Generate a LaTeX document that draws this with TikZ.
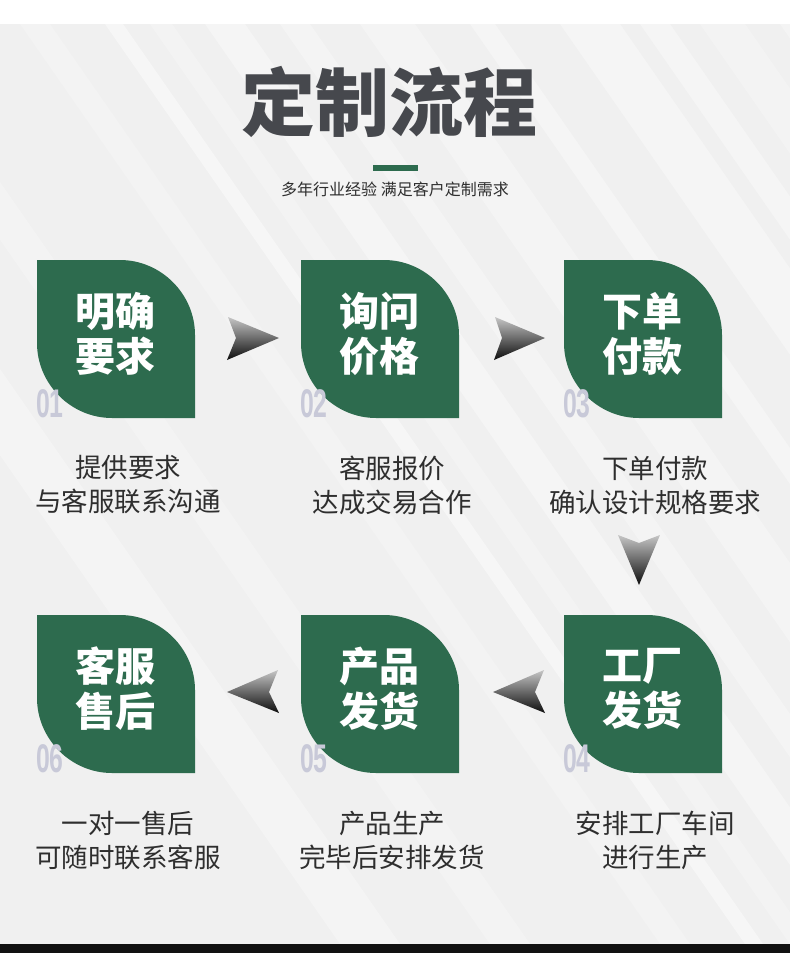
\documentclass[tikz,border=0pt]{standalone}
\usepackage{fontspec}
\usepackage{graphicx}
\newfontfamily\cjk{Noto Sans CJK SC}
\newfontfamily\numfont{Liberation Sans}
\definecolor{tilegreen}{HTML}{2D6B4E}
\definecolor{bgcol}{HTML}{F0F0F0}
\definecolor{titlecol}{HTML}{46484D}
\definecolor{desccol}{HTML}{2E2E2E}
\definecolor{numcol}{HTML}{C8C9D8}
\definecolor{barcol}{HTML}{111111}
\tikzset{
  titletext/.style={font=\cjk\bfseries\fontsize{74}{80}\selectfont, text=titlecol, inner sep=0},
  subtext/.style={font=\cjk\fontsize{16}{18}\selectfont, text=desccol, inner sep=0},
  tiletext/.style={font=\cjk\bfseries\fontsize{40}{45}\selectfont, text=white, align=center, inner sep=0},
  desctext/.style={font=\cjk\fontsize{26.5}{34}\selectfont, text=desccol, align=center, inner sep=0},
  numtext/.style={font=\numfont\bfseries\fontsize{40}{40}\selectfont, text=numcol, inner sep=0, anchor=south west},
  dart/.style={top color=gray!45, bottom color=black!95}
}
% leaf tile: #1 name, #2 left x, #3 top y, #4 text, #5 number
\newcommand\leaftile[5]{%
  \fill[tilegreen] (#2,#3) -- (#2+83,#3)
    .. controls (#2+124,#3) and (#2+158,#3+34) .. (#2+158,#3+75)
    -- (#2+158,#3+158) -- (#2+75,#3+158)
    .. controls (#2+34,#3+158) and (#2,#3+124) .. (#2,#3+83) -- cycle;
  \node[tiletext] (#1) at (#2+78,#3+74) {#4};
  \node[numtext] (#1num) at (#2-1,#3+158) {\scalebox{0.62}[1]{#5}};
}
\begin{document}
\begin{tikzpicture}[x=1pt,y=-1pt]
\useasboundingbox (0,0) rectangle (790,953);
\fill[white] (0,0) rectangle (790,24);
\fill[bgcol] (0,24) rectangle (790,944);
\begin{scope}
  \clip (0,24) rectangle (790,944);
  \foreach \a/\w/\o in {105/18/0.45, 150/22/0.25, 205/40/0.35, 280/30/0.3, 360/55/0.3, 470/25/0.35, 560/60/0.35, 640/30/0.35, 700/45/0.25, 20/30/0.2, -150/40/0.25, -300/60/0.3, 780/50/0.3}
    \fill[white, opacity=\o] (\a,24) -- (\a+\w,24) -- (\a+\w+640,944) -- (\a+640,944) -- cycle;
\end{scope}
\fill[barcol] (0,944) rectangle (790,953);

% title
\node[titletext] (title) at (389,102) {定制流程};
\fill[tilegreen] (373,165) rectangle (418,171);
\node[subtext] (subtitle) at (395,189) {多年行业经验 满足客户定制需求};

% tiles
\leaftile{t1}{37}{260}{明确\\要求}{01}
\leaftile{t2}{301}{260}{询问\\价格}{02}
\leaftile{t3}{564}{260}{下单\\付款}{03}
\leaftile{t6}{37}{615}{客服\\售后}{06}
\leaftile{t5}{301}{615}{产品\\发货}{05}
\leaftile{t4}{564}{615}{工厂\\发货}{04}

% descriptions
\node[desctext] (d1) at (128,485) {提供要求\\与客服联系沟通};
\node[desctext] (d2) at (392,485) {客服报价\\达成交易合作};
\node[desctext] (d3) at (655,485) {下单付款\\确认设计规格要求};
\node[desctext] (d6) at (128,840) {一对一售后\\可随时联系客服};
\node[desctext] (d5) at (392,840) {产品生产\\完毕后安排发货};
\node[desctext] (d4) at (655,840) {安排工厂车间\\进行生产};

% arrows
\shade[dart] (228,317) -- (279,338) -- (227,360) -- (236,338) -- cycle;
\shade[dart] (495,317) -- (545,338) -- (494,360) -- (502,338) -- cycle;
\shade[dart] (618,535) -- (639,543) -- (660,535) -- (639,585) -- cycle;
\shade[dart] (278,670) -- (269,692) -- (279,713) -- (227,692) -- cycle;
\shade[dart] (544,670) -- (535,692) -- (545,713) -- (493,692) -- cycle;
\end{tikzpicture}
\end{document}
